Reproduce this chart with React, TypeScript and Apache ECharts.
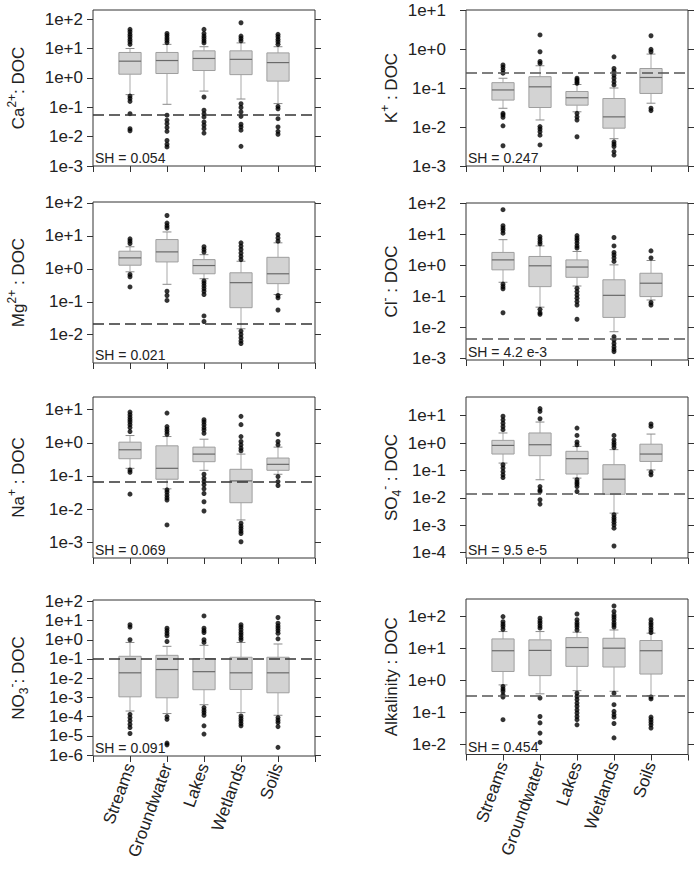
import React, { useEffect, useRef } from 'react';
import * as echarts from 'echarts';

const FONT = '"Liberation Sans", Arial, Helvetica, sans-serif';

const CATEGORIES = ['Streams', 'Groundwater', 'Lakes', 'Wetlands', 'Soils'];

// All values are log10 of the ratio. Box = [lower whisker, Q1, median, Q3, upper whisker]
const caBoxes = [
  [-0.57, 0.125, 0.568, 0.864, 1.0],
  [-0.9, 0.148, 0.59, 0.864, 1.14],
  [-0.45, 0.25, 0.66, 0.92, 1.06],
  [-0.72, 0.11, 0.63, 0.92, 1.19],
  [-0.875, -0.11, 0.52, 0.85, 1.06],
];
const caOutliers = [
  [1.65, 1.57, 1.48, 1.4, 1.31, 1.23, 1.14, -0.62, -0.7, -0.8, -1.22, -1.73, -1.8],
  [1.51, 1.44, 1.36, 1.28, 1.2, -1.27, -1.44, -1.56, -1.69, -1.82, -2.13, -2.26, -2.35],
  [1.65, 1.51, 1.42, 1.34, 1.26, 1.19, -0.65, -1.1, -1.22, -1.33, -1.5, -1.61, -1.73, -1.88],
  [1.875, 1.42, 1.34, 1.26, -0.88, -1.01, -1.16, -1.31, -1.58, -1.67, -1.78, -2.33],
  [1.48, 1.4, 1.31, 1.23, 1.14, -0.97, -1.05, -1.39, -1.67, -1.82, -1.92],
];

const kBoxes = [
  [-1.52, -1.31, -1.05, -0.863, -0.75],
  [-1.82, -1.5, -0.97, -0.71, -0.43],
  [-1.61, -1.44, -1.25, -1.09, -0.91],
  [-2.3, -2.03, -1.74, -1.27, -1.0],
  [-1.39, -1.14, -0.73, -0.5, -0.13],
];
const kOutliers = [
  [-0.41, -0.47, -0.54, -0.62, -1.65, -1.69, -1.75, -1.97, -2.48],
  [0.36, -0.07, -0.32, -0.37, -1.99, -2.05, -2.12, -2.21, -2.46],
  [-0.75, -0.79, -0.84, -0.88, -1.65, -1.74, -1.82, -2.25],
  [-0.2, -0.5, -0.58, -0.67, -0.75, -0.84, -0.92, -2.38, -2.44, -2.5, -2.63, -2.72],
  [0.34, -0.01, -0.07, -1.52, -1.58],
];

const mgBoxes = [
  [-0.09, 0.11, 0.333, 0.535, 0.67],
  [-0.47, 0.21, 0.515, 0.89, 1.12],
  [-0.3, -0.15, 0.1, 0.28, 0.43],
  [-1.82, -1.18, -0.42, -0.12, 0.23],
  [-0.78, -0.45, -0.15, 0.35, 0.79],
];
const mgOutliers = [
  [0.91, 0.84, 0.77, -0.17, -0.24, -0.55],
  [1.62, 1.39, 1.31, 1.24, -0.68, -0.81, -0.96],
  [0.67, 0.59, 0.51, -0.37, -0.44, -0.52, -0.6, -0.68, -0.78, -1.43, -1.6],
  [0.79, 0.69, 0.59, 0.48, 0.38, 0.28, -1.89, -1.99, -2.09, -2.19, -2.27],
  [1.04, 0.94, 0.84, -0.81, -0.88, -1.25],
];

const clBoxes = [
  [-0.55, -0.15, 0.17, 0.41, 0.82],
  [-1.35, -0.69, -0.02, 0.28, 0.62],
  [-0.67, -0.39, -0.06, 0.17, 0.44],
  [-2.14, -1.68, -0.97, -0.47, 0.01],
  [-1.12, -1.01, -0.58, -0.26, 0.15],
];
const clOutliers = [
  [1.785, 1.27, 1.19, 1.12, 1.03, -0.61, -0.69, -0.76, -1.53],
  [0.92, 0.84, 0.76, 0.69, -1.42, -1.53, -1.58],
  [0.95, 0.87, 0.8, 0.71, 0.62, 0.55, -0.74, -0.85, -0.96, -1.06, -1.17, -1.28, -1.74],
  [0.89, 0.62, 0.41, 0.33, 0.23, 0.12, -2.3, -2.41, -2.52, -2.62, -2.71, -2.78],
  [0.46, 0.23, -1.2, -1.28],
];

const naBoxes = [
  [-0.77, -0.48, -0.21, 0.02, 0.22],
  [-1.39, -1.1, -0.77, -0.09, 0.19],
  [-0.83, -0.57, -0.34, -0.13, 0.11],
  [-2.33, -1.81, -1.15, -0.8, -0.34],
  [-0.95, -0.83, -0.65, -0.46, -0.13],
];
const naOutliers = [
  [0.93, 0.85, 0.77, 0.7, 0.63, 0.55, 0.46, 0.34, -0.82, -0.89, -1.55],
  [0.9, 0.49, 0.41, 0.34, 0.26, -1.42, -1.49, -1.58, -1.66, -1.73, -2.48],
  [0.7, 0.63, 0.55, 0.46, 0.39, 0.29, -0.95, -1.07, -1.17, -1.27, -1.39, -1.53, -1.78, -2.06],
  [0.8, 0.55, 0.19, 0.04, -0.06, -0.16, -0.24, -2.43, -2.52, -2.59, -2.67, -2.74, -2.99],
  [0.26, 0.04, -0.06, -1.02, -1.17, -1.29],
];

const so4Boxes = [
  [-0.73, -0.4, -0.085, 0.1, 0.37],
  [-1.34, -0.46, -0.06, 0.37, 0.77],
  [-1.28, -1.13, -0.57, -0.3, -0.12],
  [-2.56, -1.87, -1.32, -0.79, -0.24],
  [-0.98, -0.67, -0.4, -0.04, 0.33],
];
const so4Outliers = [
  [0.98, 0.85, 0.73, 0.61, 0.49, -0.79, -0.91, -1.04, -1.16, -1.26],
  [1.26, 1.16, 0.89, -1.59, -1.71, -1.77, -2.07, -2.23],
  [0.55, 0.28, 0.04, -0.06, -1.34, -1.43, -1.5, -1.59, -1.77],
  [0.28, 0.12, 0.02, -0.06, -0.16, -2.62, -2.72, -2.8, -2.89, -2.99, -3.11, -3.76],
  [0.7, 0.61, -1.06, -1.16],
];

const no3Boxes = [
  [-3.71, -2.97, -1.72, -0.86, -0.14],
  [-3.84, -3.02, -1.55, -0.81, -0.34],
  [-3.38, -2.6, -1.66, -0.98, -0.29],
  [-3.79, -2.59, -1.72, -0.91, -0.14],
  [-3.93, -2.76, -1.72, -0.91, -0.22],
];
const no3Outliers = [
  [0.78, 0.66, 0.0, -3.88, -4.05, -4.22, -4.4, -4.57, -4.88],
  [0.6, 0.48, 0.34, 0.21, -0.09, -4.0, -4.14, -5.38, -5.47],
  [1.24, 0.6, 0.48, 0.38, 0.0, -0.14, -3.53, -3.67, -3.79, -3.93, -4.48, -4.91],
  [0.78, 0.66, 0.52, 0.38, 0.26, 0.12, 0.0, -3.97, -4.1, -4.22, -4.36, -4.48],
  [1.16, 0.86, 0.72, 0.6, 0.48, 0.34, 0.05, -4.05, -4.19, -4.31, -4.52, -5.6],
];

const alkBoxes = [
  [-0.14, 0.28, 0.93, 1.3, 1.53],
  [-0.42, 0.15, 0.94, 1.27, 1.53],
  [-0.32, 0.44, 1.03, 1.34, 1.51],
  [-0.34, 0.42, 1.01, 1.32, 1.58],
  [-0.48, 0.2, 0.93, 1.25, 1.48],
];
const alkOutliers = [
  [2.0, 1.84, 1.76, 1.69, 1.6, -0.19, -0.27, -0.34, -0.45, -0.52, -1.23],
  [1.95, 1.86, 1.79, 1.71, 1.64, -0.55, -1.13, -1.33, -1.65, -1.94],
  [2.08, 1.9, 1.81, 1.74, 1.67, 1.58, -0.4, -0.5, -0.6, -0.71, -0.81, -0.92, -1.02, -1.13, -1.23, -1.39],
  [2.33, 2.16, 2.05, 1.98, 1.9, 1.81, 1.74, 1.67, -0.4, -0.76, -0.97, -1.07, -1.15, -1.35, -1.8],
  [1.9, 1.81, 1.74, 1.66, 1.58, 1.5, -0.52, -0.58, -1.15, -1.23, -1.31, -1.39, -1.49],
];

// dashed reference line (log10)
const DASH_LEVELS = [-1.27, -0.607, -1.657, -2.376, -1.17, -1.85, -1.0, -0.47];
const SH_LABELS = ['SH = 0.054', 'SH = 0.247', 'SH = 0.021', 'SH = 4.2 e-3', 'SH = 0.069', 'SH = 9.5 e-5', 'SH = 0.091', 'SH = 0.454'];
const Y_MIN = [-3, -3, -2.86, -3.05, -3.48, -4.2, -6.05, -2.32];
const Y_MAX = [2.31, 1, 2.03, 2, 1.385, 1.685, 2.07, 2.55];
const Y_TICKS = [
  [-3, -2, -1, 0, 1, 2],
  [-3, -2, -1, 0, 1],
  [-2, -1, 0, 1, 2],
  [-3, -2, -1, 0, 1, 2],
  [-3, -2, -1, 0, 1],
  [-4, -3, -2, -1, 0, 1],
  [-6, -5, -4, -3, -2, -1, 0, 1, 2],
  [-2, -1, 0, 1, 2],
];
const Y_NAMES = [
  '{b|Ca}{sup|2+}{b|: DOC}',
  '{b|K}{sup|+}{b| : DOC}',
  '{b|Mg}{sup|2+}{b| : DOC}',
  '{b|Cl}{sup|-}{b| : DOC}',
  '{b|Na}{sup|+}{b| : DOC}',
  '{b|SO}{sub|4}{sup|-}{b| : DOC}',
  '{b|NO}{sub|3}{sup|-}{b|: DOC}',
  '{b|Alkalinity : DOC}',
];

const BOXES = [caBoxes, kBoxes, mgBoxes, clBoxes, naBoxes, so4Boxes, no3Boxes, alkBoxes];
const OUTLIERS = [caOutliers, kOutliers, mgOutliers, clOutliers, naOutliers, so4Outliers, no3Outliers, alkOutliers];

// layout (pixels)
const LAYOUT = [
  { left: 93, top: 10, width: 222, height: 156 },
  { left: 466, top: 10, width: 222, height: 156 },
  { left: 93, top: 202, width: 222, height: 161 },
  { left: 466, top: 203, width: 222, height: 157 },
  { left: 93, top: 397, width: 222, height: 161 },
  { left: 466, top: 397, width: 222, height: 161 },
  { left: 93, top: 600, width: 222, height: 156 },
  { left: 466, top: 599, width: 222, height: 155.5 },
];

const fmtTick = (v: number) => {
  const r = Math.round(v);
  if (Math.abs(v - r) > 1e-6) return '';
  return r >= 0 ? `1e+${r}` : `1e${r}`;
};

function buildOption() {
  const grid: any[] = [];
  const xAxis: any[] = [];
  const yAxis: any[] = [];
  const series: any[] = [];
  const graphic: any[] = [];

  LAYOUT.forEach((L, i) => {
    const rightCol = i % 2 === 1;
    grid.push({
      left: L.left, top: L.top, width: L.width, height: L.height,
      show: true, borderColor: '#333', borderWidth: 1, backgroundColor: 'transparent',
    });
    xAxis.push({
      type: 'value', gridIndex: i, min: 0, max: 6, interval: 1, position: 'bottom',
      axisLine: { show: false, onZero: false }, splitLine: { show: false },
      axisTick: { show: true, length: 6, lineStyle: { color: '#333' } },
      axisLabel: {
        show: i >= 6, rotate: 70, margin: 8, fontSize: 17, fontFamily: FONT, color: '#222',
        formatter: (v: number) => CATEGORIES[Math.round(v) - 1] ?? '',
      },
    });
    yAxis.push({
      type: 'value', gridIndex: i, position: 'left', min: Y_MIN[i], max: Y_MAX[i],
      axisLine: { show: false, onZero: false }, splitLine: { show: false },
      axisTick: { show: true, length: 6, customValues: Y_TICKS[i], lineStyle: { color: '#333' } },
      axisLabel: {
        customValues: Y_TICKS[i], formatter: fmtTick, margin: rightCol ? 20 : 10,
        fontSize: 17, fontFamily: FONT, color: '#222',
      },
      name: Y_NAMES[i], nameLocation: 'middle', nameGap: 63,
      nameTextStyle: {
        fontFamily: FONT, color: '#222',
        rich: {
          b: { fontSize: 17, lineHeight: 24, fontFamily: FONT, color: '#222' },
          sup: { fontSize: 12, lineHeight: 12, verticalAlign: 'top', fontFamily: FONT, color: '#222' },
          sub: { fontSize: 12, lineHeight: 12, verticalAlign: 'bottom', fontFamily: FONT, color: '#222' },
        },
      },
    });
    yAxis.push({
      type: 'value', gridIndex: i, position: 'right', min: Y_MIN[i], max: Y_MAX[i],
      axisLine: { show: false, onZero: false }, splitLine: { show: false },
      axisTick: { show: true, length: 6, customValues: Y_TICKS[i], lineStyle: { color: '#333' } },
      axisLabel: { show: false, customValues: Y_TICKS[i] },
    });

    series.push({
      type: 'custom', xAxisIndex: i, yAxisIndex: 2 * i, z: 2,
      encode: { x: 0, y: [1, 2, 3, 4, 5] },
      data: BOXES[i].map((b, k) => [k + 1, ...b]),
      renderItem: (params: any, api: any) => {
        const x = api.value(0);
        const lo = api.coord([x, api.value(1)]);
        const q1 = api.coord([x, api.value(2)]);
        const md = api.coord([x, api.value(3)]);
        const q3 = api.coord([x, api.value(4)]);
        const hi = api.coord([x, api.value(5)]);
        const band = api.size([1, 0])[0];
        const hw = band * 0.3;
        const cw = band * 0.12;
        const cx = lo[0];
        const whisk = { stroke: '#bdbdbd', lineWidth: 1.3 };
        const cap = { stroke: '#8a8a8a', lineWidth: 1 };
        return {
          type: 'group',
          children: [
            { type: 'line', shape: { x1: cx, y1: hi[1], x2: cx, y2: q3[1] }, style: whisk },
            { type: 'line', shape: { x1: cx, y1: q1[1], x2: cx, y2: lo[1] }, style: whisk },
            { type: 'line', shape: { x1: cx - cw, y1: hi[1], x2: cx + cw, y2: hi[1] }, style: cap },
            { type: 'line', shape: { x1: cx - cw, y1: lo[1], x2: cx + cw, y2: lo[1] }, style: cap },
            {
              type: 'rect',
              shape: { x: cx - hw, y: q3[1], width: 2 * hw, height: q1[1] - q3[1] },
              style: { fill: '#d3d3d3', stroke: '#9e9e9e', lineWidth: 1 },
            },
            { type: 'line', shape: { x1: cx - hw, y1: md[1], x2: cx + hw, y2: md[1] }, style: { stroke: '#6a6a6a', lineWidth: 1.2 } },
          ],
        };
      },
    });

    const pts: number[][] = [];
    OUTLIERS[i].forEach((arr, k) => arr.forEach((v) => pts.push([k + 1, v])));
    series.push({
      type: 'scatter', xAxisIndex: i, yAxisIndex: 2 * i, z: 4,
      data: pts, symbol: 'circle', symbolSize: 5,
      itemStyle: { color: '#000' },
      markLine: {
        silent: true, symbol: ['none', 'none'], label: { show: false },
        lineStyle: { type: [11, 5], color: rightCol ? '#555' : '#333', width: 1.5 },
        data: [{ yAxis: DASH_LEVELS[i] }],
        z: 5,
      },
    });

    graphic.push({
      type: 'text', x: L.left + 2, y: L.top + L.height - 1,
      style: {
        text: SH_LABELS[i], font: `14px ${FONT}`, fill: '#222',
        verticalAlign: 'bottom', textVerticalAlign: 'bottom',
      },
      z: 10,
    });
  });

  return { animation: false, backgroundColor: '#fff', grid, xAxis, yAxis, series, graphic };
}

export default function App() {
  const ref = useRef<HTMLDivElement>(null);
  useEffect(() => {
    if (!ref.current) return;
    const chart = echarts.init(ref.current, undefined, { renderer: 'svg' });
    chart.setOption(buildOption() as any);
    return () => chart.dispose();
  }, []);
  return (
    <div
      ref={ref}
      style={{ position: 'absolute', left: 0, top: 0, width: 699, height: 869, background: '#fff' }}
    />
  );
}
